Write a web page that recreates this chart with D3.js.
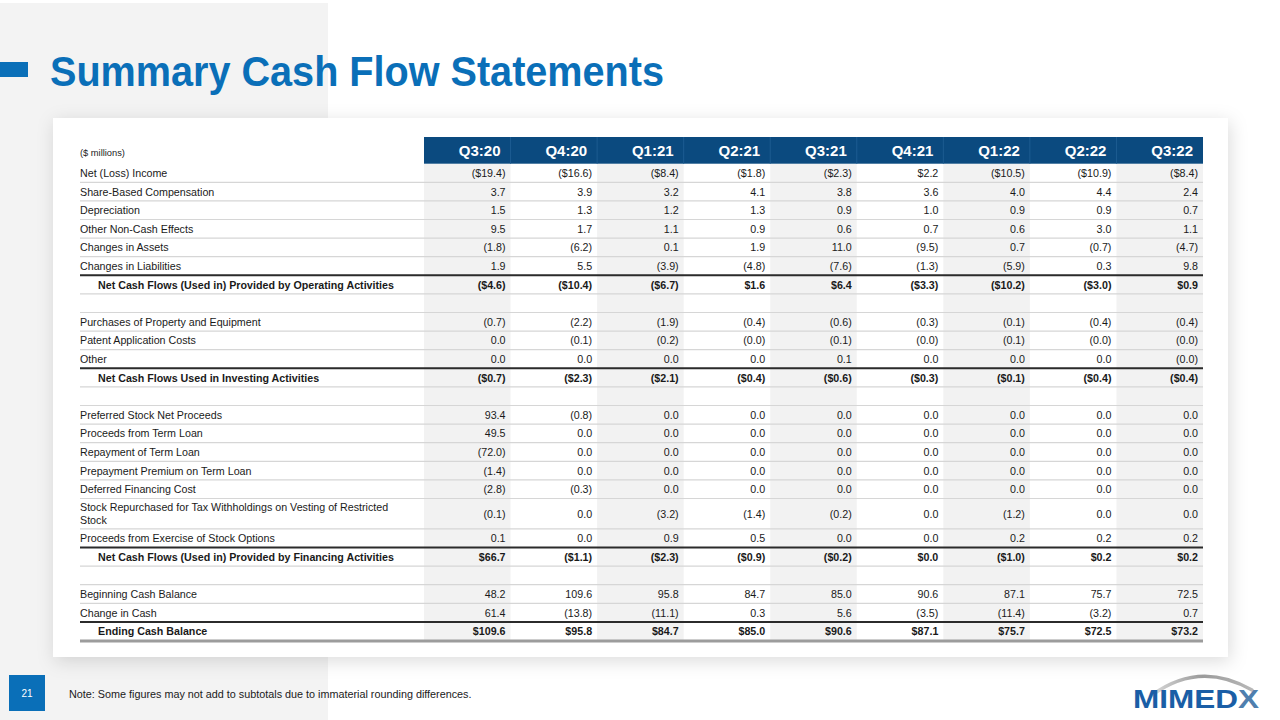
<!DOCTYPE html>
<html>
<head>
<meta charset="utf-8">
<script src="https://cdn.jsdelivr.net/npm/d3@7"></script>
<style>
  html, body { margin: 0; padding: 0; background: #ffffff; }
  svg { display: block; font-family: "Liberation Sans", Arial, sans-serif; }
</style>
</head>
<body>
<svg id="chart" width="1280" height="720"></svg>
<script>
// ---------------- DATA ----------------
const quarters = ["Q3:20", "Q4:20", "Q1:21", "Q2:21", "Q3:21", "Q4:21", "Q1:22", "Q2:22", "Q3:22"];

const rowLabels = [
  "Net (Loss) Income",
  "Share-Based Compensation",
  "Depreciation",
  "Other Non-Cash Effects",
  "Changes in Assets",
  "Changes in Liabilities",
  "Net Cash Flows (Used in) Provided by Operating Activities",
  "",
  "Purchases of Property and Equipment",
  "Patent Application Costs",
  "Other",
  "Net Cash Flows Used in Investing Activities",
  "",
  "Preferred Stock Net Proceeds",
  "Proceeds from Term Loan",
  "Repayment of Term Loan",
  "Prepayment Premium on Term Loan",
  "Deferred Financing Cost",
  "Stock Repurchased for Tax Withholdings on Vesting of Restricted\nStock",
  "Proceeds from Exercise of Stock Options",
  "Net Cash Flows (Used in) Provided by Financing Activities",
  "",
  "Beginning Cash Balance",
  "Change in Cash",
  "Ending Cash Balance"
];

const subtotalLabels = [
  "Net Cash Flows (Used in) Provided by Operating Activities",
  "Net Cash Flows Used in Investing Activities",
  "Net Cash Flows (Used in) Provided by Financing Activities",
  "Ending Cash Balance"
];

// values per row (as printed)
const netIncome        = ["($19.4)", "($16.6)", "($8.4)", "($1.8)", "($2.3)", "$2.2", "($10.5)", "($10.9)", "($8.4)"];
const shareBasedComp   = ["3.7", "3.9", "3.2", "4.1", "3.8", "3.6", "4.0", "4.4", "2.4"];
const depreciation     = ["1.5", "1.3", "1.2", "1.3", "0.9", "1.0", "0.9", "0.9", "0.7"];
const otherNonCash     = ["9.5", "1.7", "1.1", "0.9", "0.6", "0.7", "0.6", "3.0", "1.1"];
const changesAssets    = ["(1.8)", "(6.2)", "0.1", "1.9", "11.0", "(9.5)", "0.7", "(0.7)", "(4.7)"];
const changesLiabs     = ["1.9", "5.5", "(3.9)", "(4.8)", "(7.6)", "(1.3)", "(5.9)", "0.3", "9.8"];
const netOperating     = ["($4.6)", "($10.4)", "($6.7)", "$1.6", "$6.4", "($3.3)", "($10.2)", "($3.0)", "$0.9"];
const blankRow         = ["", "", "", "", "", "", "", "", ""];
const purchasesPPE     = ["(0.7)", "(2.2)", "(1.9)", "(0.4)", "(0.6)", "(0.3)", "(0.1)", "(0.4)", "(0.4)"];
const patentCosts      = ["0.0", "(0.1)", "(0.2)", "(0.0)", "(0.1)", "(0.0)", "(0.1)", "(0.0)", "(0.0)"];
const otherInvesting   = ["0.0", "0.0", "0.0", "0.0", "0.1", "0.0", "0.0", "0.0", "(0.0)"];
const netInvesting     = ["($0.7)", "($2.3)", "($2.1)", "($0.4)", "($0.6)", "($0.3)", "($0.1)", "($0.4)", "($0.4)"];
const preferredStock   = ["93.4", "(0.8)", "0.0", "0.0", "0.0", "0.0", "0.0", "0.0", "0.0"];
const termLoanProceeds = ["49.5", "0.0", "0.0", "0.0", "0.0", "0.0", "0.0", "0.0", "0.0"];
const termLoanRepay    = ["(72.0)", "0.0", "0.0", "0.0", "0.0", "0.0", "0.0", "0.0", "0.0"];
const prepayPremium    = ["(1.4)", "0.0", "0.0", "0.0", "0.0", "0.0", "0.0", "0.0", "0.0"];
const deferredFinCost  = ["(2.8)", "(0.3)", "0.0", "0.0", "0.0", "0.0", "0.0", "0.0", "0.0"];
const stockRepurchased = ["(0.1)", "0.0", "(3.2)", "(1.4)", "(0.2)", "0.0", "(1.2)", "0.0", "0.0"];
const optionProceeds   = ["0.1", "0.0", "0.9", "0.5", "0.0", "0.0", "0.2", "0.2", "0.2"];
const netFinancing     = ["$66.7", "($1.1)", "($2.3)", "($0.9)", "($0.2)", "$0.0", "($1.0)", "$0.2", "$0.2"];
const beginningCash    = ["48.2", "109.6", "95.8", "84.7", "85.0", "90.6", "87.1", "75.7", "72.5"];
const changeInCash     = ["61.4", "(13.8)", "(11.1)", "0.3", "5.6", "(3.5)", "(11.4)", "(3.2)", "0.7"];
const endingCash       = ["$109.6", "$95.8", "$84.7", "$85.0", "$90.6", "$87.1", "$75.7", "$72.5", "$73.2"];

const rowValues = [
  netIncome, shareBasedComp, depreciation, otherNonCash, changesAssets, changesLiabs, netOperating,
  blankRow,
  purchasesPPE, patentCosts, otherInvesting, netInvesting,
  blankRow,
  preferredStock, termLoanProceeds, termLoanRepay, prepayPremium, deferredFinCost, stockRepurchased, optionProceeds, netFinancing,
  blankRow,
  beginningCash, changeInCash, endingCash
];

const titleText = "Summary Cash Flow Statements";
const unitsText = "($ millions)";
const noteText = "Note: Some figures may not add to subtotals due to immaterial rounding differences.";
const pageNumber = "21";

// ---------------- LAYOUT ----------------
const svg = d3.select("#chart");
const BLUE = "#0a6fb8";
const HEADER_BLUE = "#0b4a7f";

const tableLeft = 80, colLeft = 424, colRight = 1203;
const headerTop = 137, headerBottom = 163.7;
const rowH = 18.6, tallRowH = 30.4;
const bodyFont = 10.7;

const x = d3.scaleBand().domain(quarters).range([colLeft, colRight]).paddingInner(0).paddingOuter(0);

// row geometry
const rows = rowLabels.map((label, i) => ({
  label,
  values: rowValues[i],
  subtotal: subtotalLabels.includes(label),
  lines: label.split("\n"),
  h: label.includes("\n") ? tallRowH : rowH
}));
let acc = headerBottom;
rows.forEach(r => { r.y0 = acc; acc += r.h; r.y1 = acc; r.cy = (r.y0 + r.y1) / 2; });
const tableBottom = acc;

// defs
const defs = svg.append("defs");
const f = defs.append("filter").attr("id", "shadow").attr("x", "-5%").attr("y", "-5%").attr("width", "110%").attr("height", "115%");
f.append("feDropShadow").attr("dx", 2).attr("dy", 4).attr("stdDeviation", 9)
  .attr("flood-color", "#000").attr("flood-opacity", 0.14);

const arcGrad = defs.append("linearGradient").attr("id", "arcGrad").attr("x1", "0").attr("x2", "1");
arcGrad.append("stop").attr("offset", "0").attr("stop-color", "#d8d8d8");
arcGrad.append("stop").attr("offset", "0.5").attr("stop-color", "#9a9a9a");
arcGrad.append("stop").attr("offset", "1").attr("stop-color", "#b8b8b8");

// backgrounds
svg.append("rect").attr("x", 0).attr("y", 0).attr("width", 1280).attr("height", 720).attr("fill", "#ffffff");
svg.append("rect").attr("x", 0).attr("y", 3).attr("width", 328).attr("height", 717).attr("fill", "#f3f3f3");

// title
svg.append("rect").attr("x", 0).attr("y", 62).attr("width", 28).attr("height", 15).attr("fill", BLUE);
svg.append("text").attr("x", 50).attr("y", 86)
  .attr("font-size", 42).attr("font-weight", "bold").attr("fill", BLUE)
  .attr("textLength", 614).attr("lengthAdjust", "spacingAndGlyphs")
  .text(titleText);

// card
svg.append("rect").attr("x", 53).attr("y", 118).attr("width", 1175).attr("height", 539)
  .attr("fill", "#ffffff").attr("filter", "url(#shadow)");

// shaded alternating columns
const g = svg.append("g");
g.selectAll("rect.shade").data(quarters.filter((q, i) => i % 2 === 0)).join("rect")
  .attr("class", "shade")
  .attr("x", d => x(d)).attr("y", headerBottom)
  .attr("width", x.bandwidth()).attr("height", tableBottom - headerBottom)
  .attr("fill", "#f2f2f2");

// header
g.append("rect").attr("x", colLeft).attr("y", headerTop).attr("width", colRight - colLeft)
  .attr("height", headerBottom - headerTop).attr("fill", HEADER_BLUE);
g.selectAll("line.hsep").data(quarters.slice(1)).join("line")
  .attr("class", "hsep")
  .attr("x1", d => x(d)).attr("x2", d => x(d)).attr("y1", headerTop).attr("y2", headerBottom)
  .attr("stroke", "#1d5c91").attr("stroke-width", 1);
g.selectAll("text.qh").data(quarters).join("text")
  .attr("class", "qh")
  .attr("x", d => x(d) + x.bandwidth() - 10).attr("y", (headerTop + headerBottom) / 2 + 5.5)
  .attr("text-anchor", "end").attr("font-size", 15).attr("font-weight", "bold").attr("fill", "#ffffff")
  .text(d => d);
g.append("text").attr("x", tableLeft).attr("y", 156).attr("font-size", 9.3).attr("fill", "#222")
  .text(unitsText);

// row separators
g.selectAll("line.rsep").data(rows).join("line")
  .attr("class", "rsep")
  .attr("x1", tableLeft).attr("x2", colRight)
  .attr("y1", d => d.y1).attr("y2", d => d.y1)
  .attr("stroke", "#d6d6d6").attr("stroke-width", 1.2);

// subtotal top lines
g.selectAll("line.stop").data(rows.filter(r => r.subtotal)).join("line")
  .attr("class", "stop")
  .attr("x1", tableLeft).attr("x2", colRight)
  .attr("y1", d => d.y0).attr("y2", d => d.y0)
  .attr("stroke", "#2b2b2b").attr("stroke-width", 2);

// bottom line
g.append("line").attr("x1", tableLeft).attr("x2", colRight)
  .attr("y1", tableBottom + 0.5).attr("y2", tableBottom + 0.5)
  .attr("stroke", "#9c9c9c").attr("stroke-width", 3);

// labels
const labelG = g.selectAll("text.lbl").data(rows.filter(r => r.label !== "")).join("text")
  .attr("class", "lbl")
  .attr("x", d => d.subtotal ? 98 : tableLeft)
  .attr("font-size", bodyFont).attr("fill", "#1a1a1a")
  .attr("font-weight", d => d.subtotal ? "bold" : "normal");
labelG.each(function(d) {
  const t = d3.select(this);
  const n = d.lines.length;
  d.lines.forEach((ln, k) => {
    t.append("tspan").attr("x", d.subtotal ? 98 : tableLeft)
      .attr("y", d.cy + 4 + (k - (n - 1) / 2) * 13)
      .text(ln);
  });
});

// values
const rowG = g.selectAll("g.row").data(rows).join("g").attr("class", "row");
rowG.selectAll("text").data(d => d.values.map((v, i) => ({ v, q: quarters[i], r: d }))).join("text")
  .attr("x", d => x(d.q) + x.bandwidth() - 5)
  .attr("y", d => d.r.cy + 4)
  .attr("text-anchor", "end").attr("font-size", bodyFont).attr("fill", "#1a1a1a")
  .attr("font-weight", d => d.r.subtotal ? "bold" : "normal")
  .text(d => d.v);

// footer
svg.append("rect").attr("x", 9).attr("y", 675).attr("width", 36).attr("height", 36).attr("fill", BLUE);
svg.append("text").attr("x", 27).attr("y", 697).attr("text-anchor", "middle")
  .attr("font-size", 10).attr("fill", "#ffffff").text(pageNumber);
svg.append("text").attr("x", 69).attr("y", 698).attr("font-size", 10.8).attr("fill", "#1a1a1a").text(noteText);

// logo
svg.append("path").attr("d", "M1152,695 Q1200,660 1252,690")
  .attr("fill", "none").attr("stroke", "url(#arcGrad)").attr("stroke-width", 3.5).attr("stroke-linecap", "round");
const logo = svg.append("text").attr("x", 1133).attr("y", 708)
  .attr("font-size", 25).attr("font-weight", "bold").attr("fill", "#1a5ea6")
  .attr("textLength", 126).attr("lengthAdjust", "spacingAndGlyphs");
logo.append("tspan").text("MIMED");
logo.append("tspan").attr("fill", "#4f7fae").text("X");
</script>
</body>
</html>
